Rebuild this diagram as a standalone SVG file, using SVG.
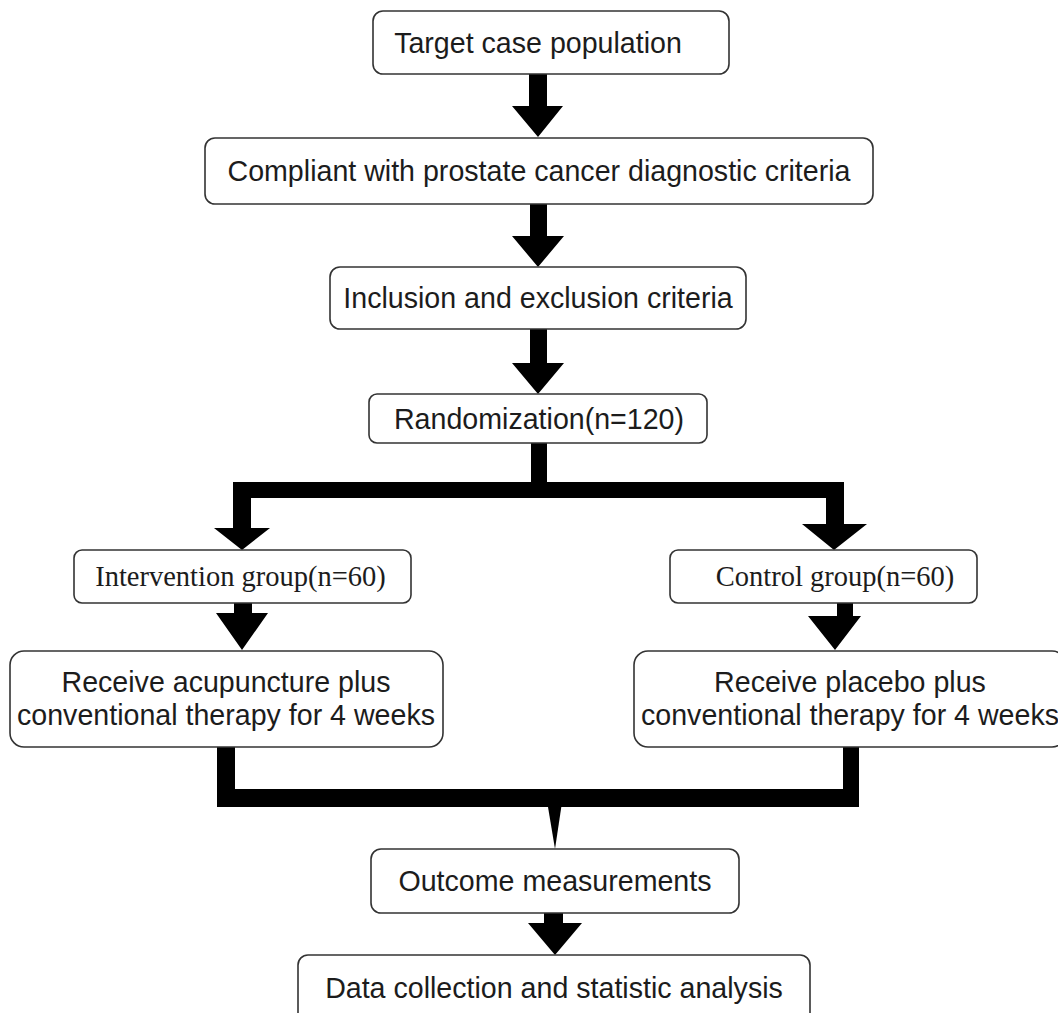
<svg xmlns="http://www.w3.org/2000/svg" width="1058" height="1013" viewBox="0 0 1058 1013">
<style>
.box{fill:#fff;stroke:#333;stroke-width:1.6}
.t{font-family:"Liberation Sans",Arial,sans-serif;font-size:28.6px;fill:#1c1c1c;text-anchor:middle}
.s{font-family:"Liberation Serif","Times New Roman",serif;font-size:28.5px;fill:#1c1c1c;text-anchor:middle}
.c{fill:#000}
</style>
<rect width="1058" height="1013" fill="#fff"/>
<g id="connectors">
<path class="c" d="M529,74H547V106H563L538,137L512,106H529Z"/>
<path class="c" d="M530,204H547V236H564L538,267L512,236H530Z"/>
<path class="c" d="M530,329H547V363H564L538,394L512,363H530Z"/>
<path class="c" d="M531,443H547V482H844V524H867L834,550L802,524H826V498H251V528H270L242,550L214,528H233V482H531Z"/>
<path class="c" d="M234,603H252V613H268L242,650L216,613H234Z"/>
<path class="c" d="M837,603H853V616H861L835,650L808,616H837Z"/>
<path class="c" d="M217,747H235V789H843V747H859V807H235H217Z"/>
<path class="c" d="M545,789H564L555,849Z"/>
<path class="c" d="M544,913H563V923H582L555,955L528,923H544Z"/>
</g>
<g id="n1"><rect class="box" x="373" y="11" width="356" height="63" rx="10"/><text class="t" x="538" y="53">Target case population</text></g>
<g id="n2"><rect class="box" x="205" y="138" width="668" height="66" rx="10"/><text class="t" x="539" y="181">Compliant with prostate cancer diagnostic criteria</text></g>
<g id="n3"><rect class="box" x="330" y="267" width="416" height="62" rx="10"/><text class="t" x="538" y="308">Inclusion and exclusion criteria</text></g>
<g id="n4"><rect class="box" x="369" y="394" width="338" height="49" rx="8"/><text class="t" x="539" y="429">Randomization(n=120)</text></g>
<g id="n5"><rect class="box" x="74" y="550" width="337" height="53" rx="8"/><text class="s" x="240.5" y="586">Intervention group(n=60)</text></g>
<g id="n6"><rect class="box" x="670" y="550" width="307" height="53" rx="8"/><text class="s" x="835" y="586">Control group(n=60)</text></g>
<g id="n7"><rect class="box" x="10" y="651" width="433" height="96" rx="14"/><text class="t" x="226" y="692">Receive acupuncture plus</text><text class="t" x="226" y="725">conventional therapy for 4 weeks</text></g>
<g id="n8"><rect class="box" x="634" y="651" width="432" height="96" rx="14"/><text class="t" x="850" y="692">Receive placebo plus</text><text class="t" x="850" y="725">conventional therapy for 4 weeks</text></g>
<g id="n9"><rect class="box" x="371" y="849" width="368" height="64" rx="10"/><text class="t" x="555" y="891">Outcome measurements</text></g>
<g id="n10"><rect class="box" x="298" y="955" width="512" height="80" rx="10"/><text class="t" x="554" y="998">Data collection and statistic analysis</text></g>
</svg>
